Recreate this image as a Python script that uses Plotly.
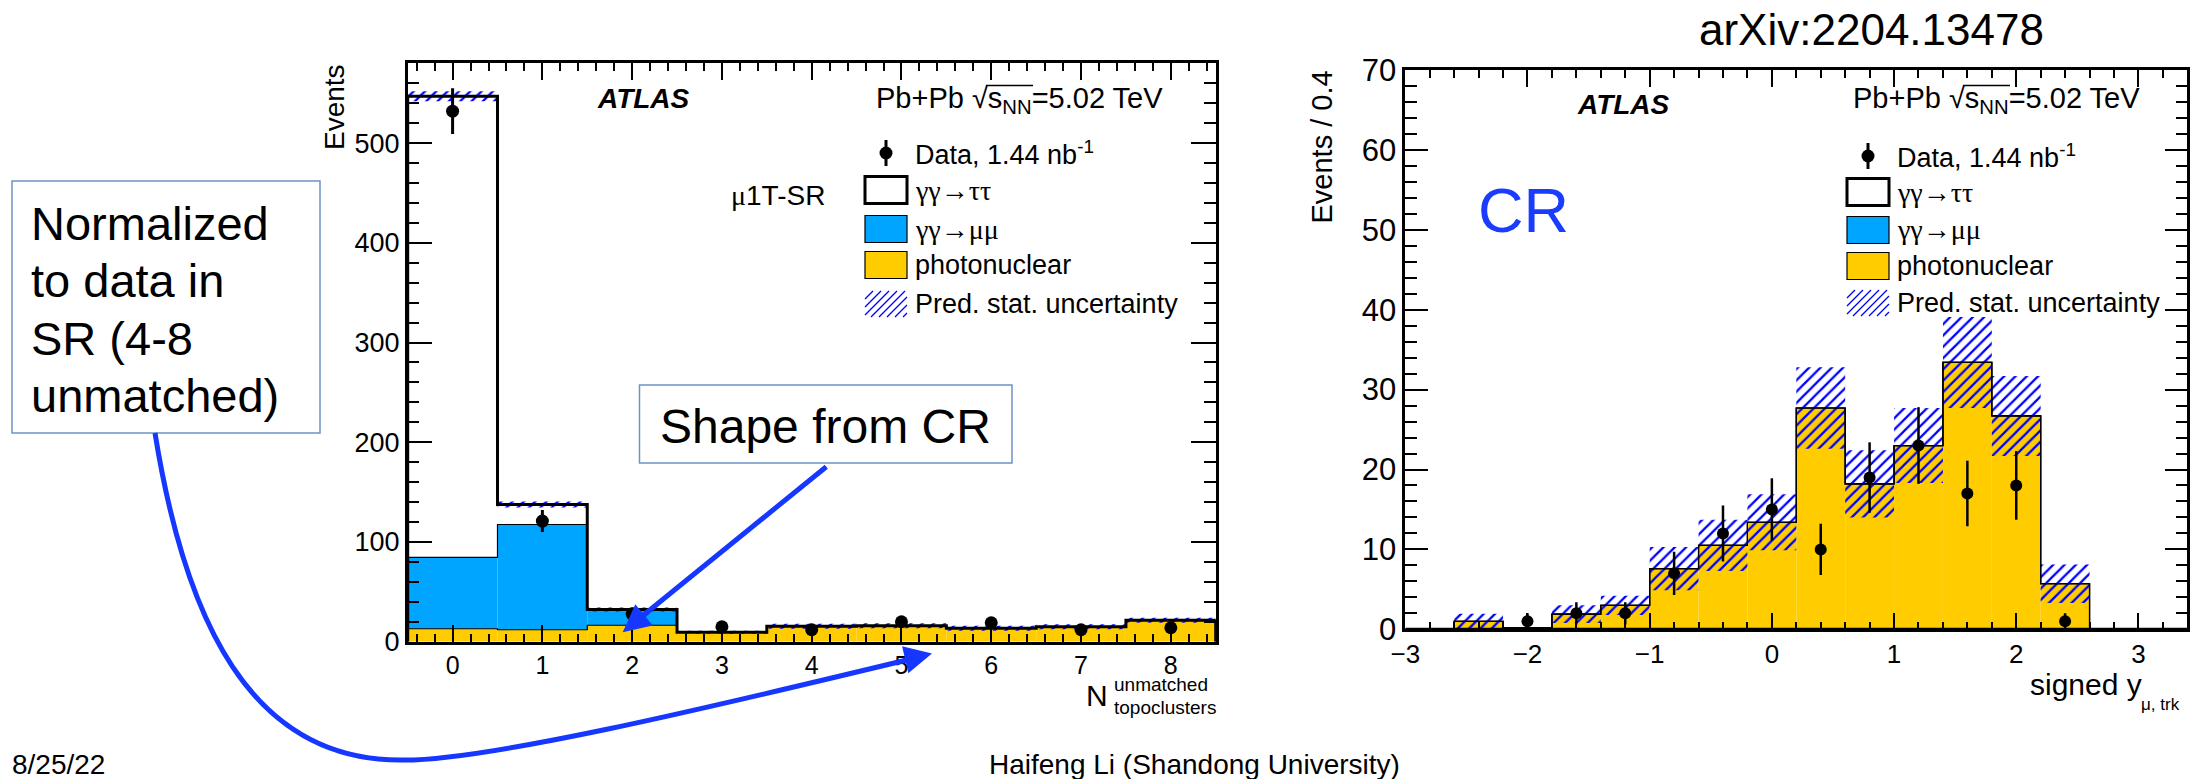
import numpy as np
import plotly.graph_objects as go

W, H = 2197, 779
def X(p): return p / W
def Y(p): return 1 - p / H

# ---------------- data: signal region (left) ----------------
sr_bins = [0, 1, 2, 3, 4, 5, 6, 7, 8]
sr_photonuclear = [13, 12, 16.5, 9.5, 15.5, 16, 13.5, 15, 21.5]
sr_mumu = [71.5, 105.5, 15, 0, 0, 0, 0, 0, 0]
sr_tautau = [462.5, 20, 0.8, 0, 0, 0, 0, 0, 0]
sr_unc = [5, 3, 2, 1.5, 2.5, 2.5, 2.5, 2.5, 2.5]
sr_data = [532, 121, 28, 15, 12, 20, 19, 12, 14]
sr_data_err = [23, 11, 5.3, 3.9, 3.5, 4.5, 4.4, 3.5, 3.7]

# ---------------- data: control region (right) ----------------
cr_centers = [-2.8, -2.4, -2.0, -1.6, -1.2, -0.8, -0.4, 0.0, 0.4, 0.8, 1.2, 1.6, 2.0, 2.4, 2.8, 3.2]
cr_photonuclear = [0, 1.0, 0.2, 1.9, 3.0, 7.6, 10.5, 13.4, 27.7, 18.2, 23.0, 33.4, 26.7, 5.7, 0, 0]
cr_mumu = [0] * 16
cr_tautau = [0] * 16
cr_unc = [0, 0.95, 0, 1.1, 1.2, 2.7, 3.2, 3.5, 5.1, 4.2, 4.7, 5.7, 5.0, 2.4, 0, 0]
cr_data_x = [-2.0, -1.6, -1.2, -0.8, -0.4, 0.0, 0.4, 0.8, 1.2, 1.6, 2.0, 2.4]
cr_data = [1, 2, 2, 7, 12, 15, 10, 19, 23, 17, 18, 1]
cr_data_err = [1, 1.4, 1.4, 2.7, 3.5, 3.9, 3.2, 4.4, 4.8, 4.1, 4.3, 1]

YELLOW = "#ffcc00"
BLUE = "#00a5ff"
HATCH = "#0000ff"
ARROW = "#1537ff"
BOXLINE = "#6f93c6"
FONT = "Liberation Sans, Arial, sans-serif"
SERIF = "Liberation Serif, Times New Roman, serif"

def step_xy(centers, vals, w):
    c = np.asarray(centers, float)
    v = np.asarray(vals, float)
    e = np.concatenate([c - w / 2, [c[-1] + w / 2]])
    xs = np.concatenate([[e[0]], e[:-1], [e[-1]], [e[-1]]])
    ys = np.concatenate([[0], v, [v[-1]], [0]])
    return xs, ys

fig = go.Figure()

def add_panel(xa, ya, centers, pn, mumu, tautau, unc, w, total_thick):
    pn = np.asarray(pn, float); mumu = np.asarray(mumu, float); tt = np.asarray(tautau, float)
    unc = np.asarray(unc, float)
    lvl1 = pn
    lvl2 = pn + mumu
    total = pn + mumu + tt
    fig.add_trace(go.Bar(x=centers, y=pn, base=0, width=w, marker=dict(color=YELLOW, line=dict(width=0)),
                         xaxis=xa, yaxis=ya, hoverinfo="skip"))
    fig.add_trace(go.Bar(x=centers, y=mumu, base=lvl1, width=w, marker=dict(color=BLUE, line=dict(width=0)),
                         xaxis=xa, yaxis=ya, hoverinfo="skip"))
    fig.add_trace(go.Bar(x=centers, y=2 * unc, base=total - unc, width=w,
                         marker=dict(color="rgba(0,0,0,0)", line=dict(width=0),
                                     pattern=dict(shape="/", fgcolor=HATCH, bgcolor="rgba(0,0,0,0)",
                                                  fgopacity=1, size=8, solidity=0.28)),
                         xaxis=xa, yaxis=ya, hoverinfo="skip"))
    for lv in (lvl1, lvl2):
        sx, sy = step_xy(centers, lv, w)
        fig.add_trace(go.Scatter(x=sx, y=sy, mode="lines", line=dict(color="black", width=1.2, shape="hv"),
                                 xaxis=xa, yaxis=ya, hoverinfo="skip", cliponaxis=False))
    if total_thick:
        sx, sy = step_xy(centers, total, w)
        fig.add_trace(go.Scatter(x=sx, y=sy, mode="lines", line=dict(color="black", width=3, shape="hv"),
                                 xaxis=xa, yaxis=ya, hoverinfo="skip", cliponaxis=False))
    else:
        sx, sy = step_xy(centers, total, w)
        fig.add_trace(go.Scatter(x=sx, y=sy, mode="lines", line=dict(color="black", width=1.2, shape="hv"),
                                 xaxis=xa, yaxis=ya, hoverinfo="skip", cliponaxis=False))
        sx, sy = step_xy(centers, tt, w)
        fig.add_trace(go.Scatter(x=sx, y=sy, mode="lines", line=dict(color="black", width=3, shape="hv"),
                                 xaxis=xa, yaxis=ya, hoverinfo="skip", cliponaxis=False))

add_panel("x", "y", sr_bins, sr_photonuclear, sr_mumu, sr_tautau, sr_unc, 1.0, True)
add_panel("x2", "y2", cr_centers, cr_photonuclear, cr_mumu, cr_tautau, cr_unc, 0.4, False)

fig.add_trace(go.Scatter(x=sr_bins, y=sr_data, mode="markers",
                         marker=dict(color="black", size=13),
                         error_y=dict(type="data", array=sr_data_err, thickness=3, width=0, color="black"),
                         xaxis="x", yaxis="y", hoverinfo="skip"))
fig.add_trace(go.Scatter(x=cr_data_x, y=cr_data, mode="markers",
                         marker=dict(color="black", size=12),
                         error_y=dict(type="data", array=cr_data_err, thickness=2.5, width=0, color="black"),
                         xaxis="x2", yaxis="y2", hoverinfo="skip"))

def axis(domain, rng, dtick, mdtick, tlen, mlen, fsize, anchor):
    return dict(domain=domain, range=rng, anchor=anchor, dtick=dtick, tick0=0, automargin=False,
                showline=True, linecolor="black", linewidth=2.5, mirror="allticks",
                ticks="inside", ticklen=tlen, tickwidth=2, tickcolor="black",
                minor=dict(dtick=mdtick, tick0=0, ticks="inside", ticklen=mlen, tickwidth=1.5, tickcolor="black"),
                showgrid=False, zeroline=False, fixedrange=True, title=dict(text=""),
                tickfont=dict(family=FONT, size=fsize, color="black"))

fig.update_layout(
    template="none",
    width=W, height=H, margin=dict(l=0, r=0, t=0, b=0, pad=0, autoexpand=False),
    paper_bgcolor="white", plot_bgcolor="rgba(0,0,0,0)",
    barmode="overlay", showlegend=False,
    xaxis=axis([X(407.7), X(1215.7)], [-0.5, 8.5], 1, 0.2, 17, 8, 25, "y"),
    yaxis=axis([Y(641.7), Y(63.3)], [0, 580], 100, 20, 25, 12, 27, "x"),
    xaxis2=axis([X(1405.3), X(2187.3)], [-3, 3.4], 1, 0.2, 17, 8, 26, "y2"),
    yaxis2=axis([Y(629.3), Y(70)], [0, 70], 10, 2, 23, 12, 31, "x2"),
)

ann = []
shapes = []

def text(x, y, s, size, xanchor="left", yanchor="middle", color="black", family=FONT, **kw):
    ann.append(dict(x=X(x), y=Y(y), xref="paper", yref="paper", text=s, showarrow=False,
                    xanchor=xanchor, yanchor=yanchor, borderpad=0,
                    font=dict(size=size, color=color, family=family), **kw))

def rect(x0, y0, x1, y1, fill, lw, lc="black"):
    shapes.append(dict(type="rect", xref="paper", yref="paper", x0=X(x0), x1=X(x1), y0=Y(y1), y1=Y(y0),
                       fillcolor=fill, line=dict(width=lw, color=lc), layer="above"))

def line(x0, y0, x1, y1, lw, color="black"):
    shapes.append(dict(type="line", xref="paper", yref="paper", x0=X(x0), x1=X(x1), y0=Y(y0), y1=Y(y1),
                       line=dict(width=lw, color=color), layer="above"))

def hatch_box(x0, y0, x1, y1, sp=8):
    w, h = x1 - x0, y1 - y0
    segs = []
    c = -h
    while c < w:
        s0 = max(0, -c); s1 = min(h, w - c)
        if s1 > s0:
            ax_, ay_ = x0 + c + s0, y1 - s0
            bx_, by_ = x0 + c + s1, y1 - s1
            segs.append(f"M{X(ax_):.5f},{Y(ay_):.5f} L{X(bx_):.5f},{Y(by_):.5f}")
        c += sp
    shapes.append(dict(type="path", xref="paper", yref="paper", path=" ".join(segs),
                       line=dict(width=1.3, color=HATCH), layer="above"))

def data_marker(x, y, r, y0, y1):
    line(x, y0, x, y1, 3)
    shapes.append(dict(type="circle", xref="paper", yref="paper", x0=X(x - r), x1=X(x + r),
                       y0=Y(y + r), y1=Y(y - r), fillcolor="black", line=dict(width=0), layer="above"))

def legend(bx, tx, ys):
    data_marker(bx + 21, ys[0], 6.5, ys[0] - 13, ys[0] + 13)
    text(tx, ys[0], "Data, 1.44 nb<sup>-1</sup>", 27)
    rect(bx, ys[1] - 13.5, bx + 42, ys[1] + 13.5, "white", 3)
    text(tx, ys[1], "γγ→ττ", 28, family=SERIF)
    rect(bx, ys[2] - 13.5, bx + 42, ys[2] + 13.5, BLUE, 1.2)
    text(tx, ys[2], "γγ→μμ", 28, family=SERIF)
    rect(bx, ys[3] - 13.5, bx + 42, ys[3] + 13.5, YELLOW, 1.2)
    text(tx, ys[3], "photonuclear", 27)
    hatch_box(bx, ys[4] - 13, bx + 42, ys[4] + 13)
    text(tx, ys[4], "Pred. stat. uncertainty", 27)

def energy(x, y):
    text(x, y, "Pb+Pb √s<sub>NN</sub>=5.02 TeV", 29)
    line(x + 111, y - 14.5, x + 158, y - 14.5, 1.6)

# ---- left panel texts ----
text(596, 99, "<b><i>ATLAS</i></b>", 28)
energy(875, 100)
legend(865, 914, [153, 190, 229, 265, 304])
text(730, 195, "<span style='font-family:Liberation Serif'>μ</span>1T-SR", 28)
text(408 - 73, 63, "Events", 28, xanchor="center", yanchor="top", textangle=-90)
text(1109, 695, "N", 30, xanchor="right")
text(1113, 684, "unmatched", 19)
text(1113, 707, "topoclusters", 19)

# ---- right panel texts ----
text(1576, 104, "<b><i>ATLAS</i></b>", 28)
energy(1852, 100)
legend(1847, 1896, [156, 192, 230, 266, 303])
text(1477, 210, "CR", 63, color="#1a3cff")
text(1322, 70, "Events / 0.4", 29, xanchor="center", yanchor="top", textangle=-90)
text(2143, 684, "signed y", 30, xanchor="right")
text(2140, 704, "μ, trk", 17)

# ---- slide annotations ----
text(1698, 30, "arXiv:2204.13478", 44)
rect(12, 181, 320, 433, "white", 1.5, BOXLINE)
for i, s in enumerate(["Normalized", "to data in", "SR (4-8", "unmatched)"]):
    text(30, 223 + 57.5 * i, s, 47)
rect(639.5, 385, 1012, 463, "white", 1.5, BOXLINE)
text(825, 427, "Shape from CR", 48, xanchor="center")
text(11, 764, "8/25/22", 28)
text(988, 764, "Haifeng Li (Shandong University)", 28)

def P(x, y): return f"{X(x):.5f},{Y(y):.5f}"

# straight arrow from "Shape from CR": shaft as a shape, head as a short annotation arrow
shapes.append(dict(type="path", xref="paper", yref="paper", layer="above",
                   path=f"M{P(826.3,466.7)} L{P(640,618)}", line=dict(width=5, color=ARROW)))
ann.append(dict(x=X(622.7), y=Y(632.3), xref="paper", yref="paper", text="", showarrow=True,
                ax=27, ay=-22, arrowhead=2, arrowsize=1.1, arrowwidth=5,
                arrowcolor=ARROW, standoff=0, startstandoff=0))
# curved arrow from "Normalized" box
shapes.append(dict(type="path", xref="paper", yref="paper", layer="above",
                   path=f"M{P(155,433)} C{P(185,620)} {P(250,760)} {P(400,760)} C{P(480,762)} {P(700,710)} {P(915,658)}",
                   line=dict(width=5, color=ARROW)))
ann.append(dict(x=X(932), y=Y(653.5), xref="paper", yref="paper", text="", showarrow=True,
                ax=-30, ay=7, arrowhead=2, arrowsize=1.1, arrowwidth=5,
                arrowcolor=ARROW, standoff=0, startstandoff=0))

fig.update_layout(annotations=ann, shapes=shapes)
fig.write_html("out.html")
